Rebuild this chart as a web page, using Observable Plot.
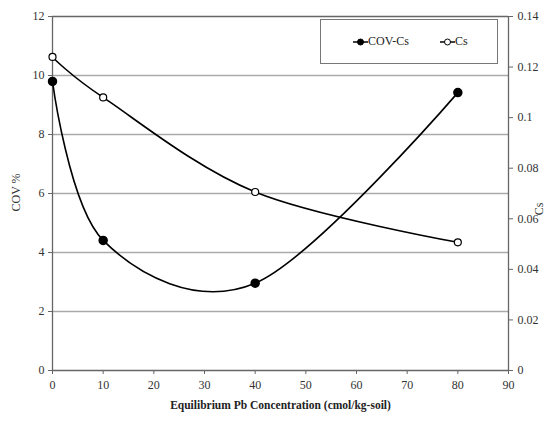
<!DOCTYPE html>
<html><head><meta charset="utf-8">
<script src="https://cdn.jsdelivr.net/npm/d3@7"></script>
<script src="https://cdn.jsdelivr.net/npm/@observablehq/plot@0.6"></script>
<style>
body{margin:0;background:#fff;font-family:"Liberation Serif",serif;}
#wrap{position:relative;width:548px;height:421px;}
#legend{position:absolute;left:320px;top:19px;width:176px;height:43px;border:1.5px solid #777;background:#fff;font:12px "Liberation Serif",serif;color:#222;}
#legend .item{position:absolute;top:14px;display:flex;align-items:center;}
</style></head>
<body><div id="wrap"></div>
<script>
const xVals = [0, 10, 40, 80];
const covVals = [9.8, 4.41, 2.96, 9.42];
const csVals = [0.124, 0.108, 0.0706, 0.0507];
const xTicks = [0,10,20,30,40,50,60,70,80,90];
const yTicks = [0,2,4,6,8,10,12];
const csTicks = [0,0.02,0.04,0.06,0.08,0.1,0.12,0.14];
const csTickLabels = ["0","0.02","0.04","0.06","0.08","0.1","0.12","0.14"];
const gridVals = [2,4,6,8,10];

const csMax = 0.14, covMax = 12;
const toLeft = v => v * covMax / csMax;
const cov = xVals.map((x,i)=>({x, y: covVals[i]}));
const cs = xVals.map((x,i)=>({x, y: toLeft(csVals[i])}));

const chart = Plot.plot({
  width: 548, height: 421,
  marginLeft: 52, marginRight: 40, marginTop: 16, marginBottom: 51,
  style: {fontFamily: "Liberation Serif, serif", fontSize: "12px", color: "#333", background: "#fff"},
  x: {domain: [0, 90]},
  y: {domain: [0, 12]},
  marks: [
    Plot.ruleY(gridVals, {stroke: "#aaa", strokeWidth: 1.3}),
    Plot.ruleY([12], {stroke: "#666", strokeWidth: 1.3}),
    Plot.ruleY([0], {stroke: "#666", strokeWidth: 1.3}),
    Plot.ruleX([0], {stroke: "#666", strokeWidth: 1.3}),
    Plot.ruleX([90], {stroke: "#666", strokeWidth: 1.3}),
    Plot.axisX({ticks: xTicks, tickSize: 4, tickPadding: 6, stroke: "#666", label: null, fill: "#333"}),
    Plot.axisY({ticks: yTicks, anchor: "left", tickSize: 4, tickPadding: 4, stroke: "#666", label: null, fill: "#333"}),
    Plot.axisY(csTicks.map(toLeft), {anchor: "right", tickSize: 4, tickPadding: 5, stroke: "#666", label: null, fill: "#333", tickFormat: (d, i) => csTickLabels[i]}),
    Plot.text(["COV %"], {frameAnchor: "left", rotate: -90, dx: -36, dy: 18, fontSize: 12, fill: "#333"}),
    Plot.text(["Cs"], {frameAnchor: "right", rotate: -90, dx: 31, dy: 9, fontSize: 12, fill: "#333"}),
    Plot.text(["Equilibrium Pb Concentration (cmol/kg-soil)"], {frameAnchor: "bottom", dy: 38, fontSize: 11.5, fontWeight: "bold", fill: "#222"}),
    Plot.line(cov, {x: "x", y: "y", curve: "cardinal", stroke: "#000", strokeWidth: 1.6}),
    Plot.line(cs, {x: "x", y: "y", curve: "cardinal", stroke: "#000", strokeWidth: 1.6}),
    Plot.dot(cov, {x: "x", y: "y", r: 4, fill: "#000", stroke: "#000"}),
    Plot.dot(cs, {x: "x", y: "y", r: 3.5, fill: "#fff", stroke: "#000", strokeWidth: 1.2})
  ]
});
const wrap = document.getElementById("wrap");
wrap.appendChild(chart);

const legend = document.createElement("div");
legend.id = "legend";
const items = [{label: "COV-Cs", fill: "#000", left: 32}, {label: "Cs", fill: "#fff", left: 119}];
for (const it of items) {
  const d = document.createElement("div");
  d.className = "item";
  d.style.left = it.left + "px";
  d.innerHTML = `<svg width="15" height="10"><line x1="0" y1="5" x2="15" y2="5" stroke="#000" stroke-width="1.5"/><circle cx="7.5" cy="5" r="3" fill="${it.fill}" stroke="#000" stroke-width="1"/></svg><span>${it.label}</span>`;
  legend.appendChild(d);
}
wrap.appendChild(legend);
</script></body></html>
